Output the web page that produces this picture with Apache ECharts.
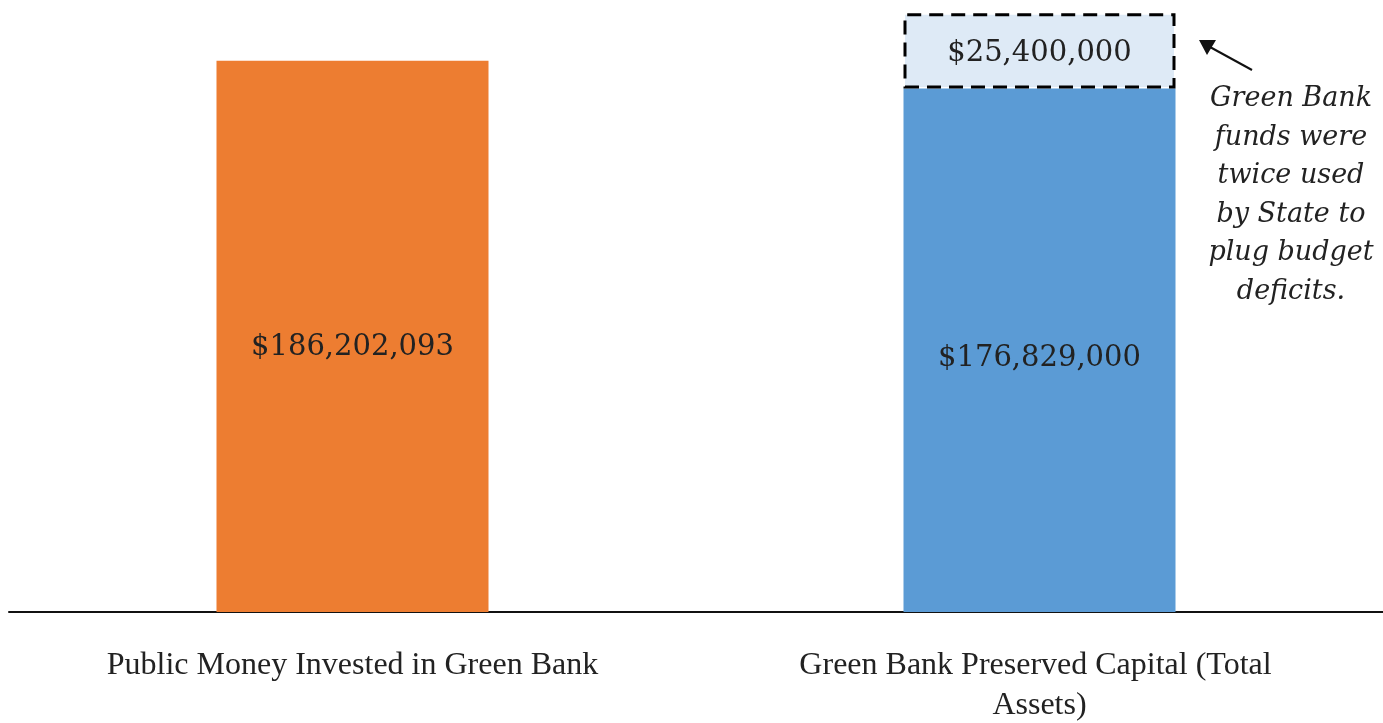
<!DOCTYPE html>
<html>
<head>
<meta charset="utf-8">
<script src="https://cdn.jsdelivr.net/npm/echarts@6/dist/echarts.min.js"></script>
<style>
  html, body { margin: 0; padding: 0; background: #fff; }
  #chart { width: 1383px; height: 723px; }
</style>
</head>
<body>
<div id="chart"></div>
<script>
// categories and values
const categories = ["Public Money Invested in Green Bank", "Green Bank Preserved Capital (Total Assets)"];
const investedValues = [186202093, "-"];
const preservedValues = ["-", 176829000];
const divertedValues = ["-", 25400000];
const noteLines = ["Green Bank", "funds were", "twice used", "by State to", "plug budget", "deficits."];

function money(p) {
  return "$" + Number(p.value).toLocaleString("en-US");
}

function barLabel(dy) {
  return {
    show: true,
    position: "inside",
    offset: [0, dy],
    formatter: money,
    color: "#222",
    fontFamily: "DejaVu Serif",
    fontSize: 29
  };
}

const chart = echarts.init(document.getElementById("chart"));
chart.setOption({
  animation: false,
  backgroundColor: "#fff",
  grid: { left: 9, right: 0, top: 5, bottom: 111, outerBoundsMode: "none", containLabel: false },
  xAxis: {
    type: "category",
    data: categories,
    axisLine: { lineStyle: { color: "#111", width: 2 } },
    axisTick: { show: false },
    axisLabel: {
      color: "#222",
      fontFamily: "Liberation Serif",
      fontSize: 32,
      lineHeight: 40,
      margin: 34,
      width: 560,
      overflow: "break",
      interval: 0
    }
  },
  yAxis: {
    type: "value",
    min: 0,
    max: 205000000,
    show: false,
    splitLine: { show: false }
  },
  series: [
    {
      name: "Public Money",
      type: "bar",
      stack: "total",
      barWidth: 272,
      data: investedValues,
      itemStyle: { color: "#ED7D31" },
      label: barLabel(11)
    },
    {
      name: "Preserved Capital",
      type: "bar",
      stack: "total",
      barWidth: 272,
      data: preservedValues,
      itemStyle: { color: "#5B9BD5" },
      label: barLabel(8)
    },
    {
      name: "Diverted",
      type: "bar",
      stack: "total",
      barWidth: 272,
      clip: false,
      data: divertedValues,
      itemStyle: {
        color: "#DEEAF6",
        borderColor: "#000",
        borderWidth: 3,
        borderType: [14, 8]
      },
      label: barLabel(3)
    }
  ],
  graphic: [
    {
      type: "text",
      x: 1291,
      y: 80,
      style: {
        text: noteLines.join("\n"),
        fill: "#222",
        font: "italic 27px 'DejaVu Serif'",
        lineHeight: 38.5,
        align: "center"
      }
    },
    {
      type: "line",
      shape: { x1: 1252, y1: 70, x2: 1210, y2: 47 },
      style: { stroke: "#111", lineWidth: 2 }
    },
    {
      type: "polygon",
      shape: { points: [[1199, 40], [1216, 40], [1207, 55]] },
      style: { fill: "#111" }
    }
  ]
});
</script>
</body>
</html>
